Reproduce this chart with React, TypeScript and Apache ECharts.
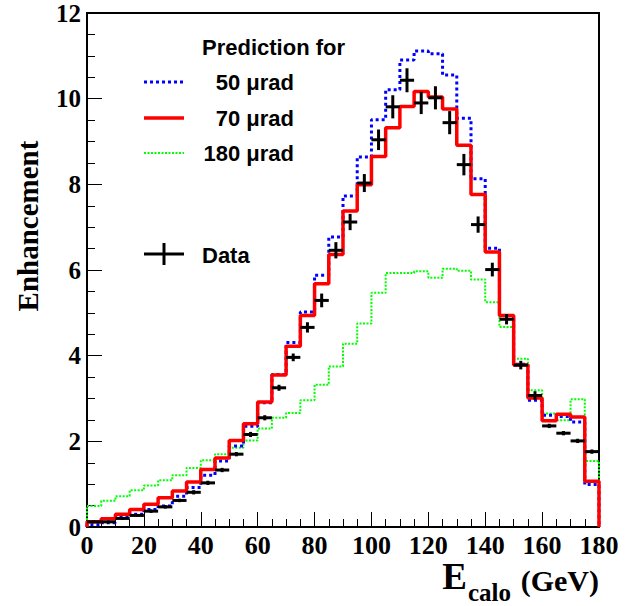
import React, { useEffect, useRef } from "react";
import * as echarts from "echarts";

// Histogram binning (GeV)
const binWidth = 5;
const xMin = 0;
const xMax = 180;

// Prediction for 50 µrad (blue, dotted)
const pred50 = [
  0.06, 0.10, 0.22, 0.30, 0.41, 0.49, 0.72, 0.92, 1.21, 1.54, 1.89, 2.35,
  2.90, 3.56, 4.31, 5.02, 5.88, 6.77, 7.73, 8.64, 9.51, 10.21, 10.90, 11.11,
  11.05, 10.55, 9.54, 8.13, 6.51, 4.94, 3.80, 2.96, 2.61, 2.58, 2.45, 0.99,
];
// Prediction for 70 µrad (red, solid)
const pred70 = [
  0.12, 0.19, 0.30, 0.41, 0.53, 0.68, 0.84, 1.05, 1.34, 1.61, 2.02, 2.41,
  2.92, 3.55, 4.22, 4.94, 5.68, 6.36, 7.38, 7.99, 8.65, 9.32, 9.82, 10.17,
  10.04, 9.76, 8.91, 7.76, 6.42, 4.94, 3.78, 3.01, 2.48, 2.63, 2.57, 1.07,
];
// Prediction for 180 µrad (green, dotted)
const pred180 = [
  0.49, 0.61, 0.72, 0.86, 0.97, 1.09, 1.21, 1.38, 1.56, 1.70, 1.85, 2.02,
  2.30, 2.55, 2.66, 2.96, 3.32, 3.75, 4.28, 4.75, 5.47, 5.93, 5.93, 5.97,
  5.82, 6.03, 5.98, 5.78, 5.25, 4.67, 3.93, 3.19, 2.65, 2.49, 2.98, 1.54,
];
// Measured data and errors
const dataValues = [
  0.12, 0.12, 0.20, 0.27, 0.37, 0.47, 0.62, 0.81, 1.03, 1.33, 1.70, 2.16,
  2.55, 3.25, 3.96, 4.66, 5.29, 6.46, 7.12, 8.03, 9.04, 9.81, 10.43, 9.90,
  10.02, 9.44, 8.46, 7.06, 6.01, 4.85, 3.78, 3.07, 2.36, 2.19, 2.01, 1.76,
];
const dataErrors = [
  0.03, 0.03, 0.03, 0.03, 0.04, 0.04, 0.04, 0.05, 0.05, 0.05, 0.05, 0.06,
  0.06, 0.07, 0.09, 0.12, 0.16, 0.19, 0.19, 0.21, 0.24, 0.27, 0.28, 0.26,
  0.27, 0.27, 0.25, 0.19, 0.16, 0.12, 0.10, 0.10, 0.05, 0.05, 0.05, 0.05,
];

const legendLabels = ["50 \u03bcrad", "70 \u03bcrad", "180 \u03bcrad"];

function stepPoints(vals: number[]): number[][] {
  const pts: number[][] = [[xMin, 0]];
  vals.forEach((v, i) => {
    pts.push([xMin + i * binWidth, v]);
    pts.push([xMin + (i + 1) * binWidth, v]);
  });
  pts.push([xMax, 0]);
  return pts;
}

const serif = "Liberation Serif";
const sans = "Liberation Sans";

export default function App() {
  const ref = useRef<HTMLDivElement>(null);
  useEffect(() => {
    if (!ref.current) return;
    const chart = echarts.init(ref.current, null, { renderer: "svg" });
    const histLine = (name: string, vals: number[], color: string, width: number, dash: any, z: number) => ({
      name,
      type: "line",
      data: stepPoints(vals),
      showSymbol: false,
      symbol: "none",
      z,
      lineStyle: { color, width, type: dash },
    });
    const legendY = [82, 118, 153];
    const legendColors = ["#0000ff", "#ff0000", "#00ff00"];
    const legendWidths = [3, 3.5, 2];
    const legendDash: any[] = [[3, 3], null, [2, 1.5]];
    const graphic: any[] = [
      {
        type: "text",
        x: 202,
        y: 47,
        style: { text: "Prediction for", font: `bold 22px "${sans}"`, fill: "#000", textAlign: "left", textVerticalAlign: "middle" },
      },
    ];
    legendLabels.forEach((lab, i) => {
      graphic.push({
        type: "line",
        shape: { x1: 144, y1: legendY[i], x2: 184, y2: legendY[i] },
        style: { stroke: legendColors[i], lineWidth: legendWidths[i], lineDash: legendDash[i] || undefined },
      });
      graphic.push({
        type: "text",
        x: 294,
        y: legendY[i],
        style: { text: lab, font: `bold 22px "${sans}"`, fill: "#000", textAlign: "right", textVerticalAlign: "middle" },
      });
    });
    graphic.push(
      { type: "line", shape: { x1: 144, y1: 254, x2: 184, y2: 254 }, style: { stroke: "#000", lineWidth: 3 } },
      { type: "line", shape: { x1: 164, y1: 243, x2: 164, y2: 265 }, style: { stroke: "#000", lineWidth: 3 } },
      {
        type: "text",
        x: 202,
        y: 255,
        style: { text: "Data", font: `bold 22px "${sans}"`, fill: "#000", textAlign: "left", textVerticalAlign: "middle" },
      },
      {
        type: "text",
        x: 28,
        y: 226,
        rotation: Math.PI / 2,
        style: { text: "Enhancement", font: `bold 29px "${serif}"`, fill: "#000", textAlign: "center", textVerticalAlign: "middle" },
      },
      {
        type: "text",
        x: 599,
        y: 595,
        style: { text: "(GeV)", font: `bold 30px "${serif}"`, fill: "#000", textAlign: "right", textVerticalAlign: "bottom" },
      },
      {
        type: "text",
        x: 468,
        y: 605,
        style: { text: "calo", font: `bold 25px "${serif}"`, fill: "#000", textAlign: "left", textVerticalAlign: "bottom" },
      },
      {
        type: "text",
        x: 467,
        y: 595,
        style: { text: "E", font: `bold 37px "${serif}"`, fill: "#000", textAlign: "right", textVerticalAlign: "bottom" },
      }
    );

    const axisCommon = {
      axisLine: { show: true, lineStyle: { color: "#000", width: 2 } },
      axisTick: { show: true, inside: true, length: 15, lineStyle: { color: "#000", width: 1 } },
      minorTick: { show: true, splitNumber: 4, length: 8, lineStyle: { color: "#000", width: 1 } },
      splitLine: { show: false },
      minorSplitLine: { show: false },
    };

    chart.setOption({
      animation: false,
      backgroundColor: "#fff",
      grid: { left: 87, right: 40, top: 13, bottom: 79, show: true, borderColor: "#000", borderWidth: 2, backgroundColor: "transparent" },
      xAxis: {
        type: "value",
        min: xMin,
        max: xMax,
        interval: 20,
        ...axisCommon,
        axisLabel: { color: "#000", fontFamily: serif, fontWeight: "bold", fontSize: 26, margin: 5 },
      },
      yAxis: {
        type: "value",
        min: 0,
        max: 12,
        interval: 2,
        ...axisCommon,
        axisLabel: { color: "#000", fontFamily: serif, fontWeight: "bold", fontSize: 25, margin: 6 },
      },
      series: [
        histLine("180 µrad", pred180, "#00ff00", 2, [2, 1.5], 2),
        histLine("50 µrad", pred50, "#0000ff", 3, [3, 3], 3),
        histLine("70 µrad", pred70, "#ff0000", 3.5, "solid", 4),
        {
          name: "Data",
          type: "custom",
          z: 5,
          data: dataValues.map((v, i) => [xMin + (i + 0.5) * binWidth, v, dataErrors[i]]),
          renderItem: (params: any, api: any) => {
            const x = api.value(0);
            const y = api.value(1);
            const e = api.value(2);
            const c = api.coord([x, y]);
            const l = api.coord([x - binWidth / 2, y]);
            const r = api.coord([x + binWidth / 2, y]);
            const t = api.coord([x, y + e]);
            const b = api.coord([x, y - e]);
            return {
              type: "group",
              children: [
                { type: "line", shape: { x1: l[0], y1: c[1], x2: r[0], y2: c[1] }, style: { stroke: "#000", lineWidth: 3 } },
                { type: "line", shape: { x1: c[0], y1: t[1], x2: c[0], y2: b[1] }, style: { stroke: "#000", lineWidth: 3 } },
              ],
            };
          },
        },
      ],
      graphic,
    });
    return () => chart.dispose();
  }, []);
  return <div ref={ref} style={{ position: "fixed", left: 0, top: 0, width: 639, height: 606 }} />;
}
